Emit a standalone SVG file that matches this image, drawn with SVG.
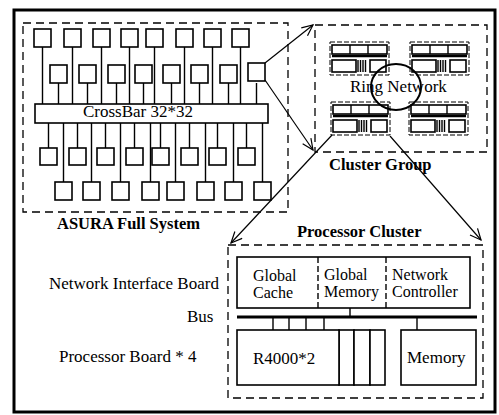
<svg xmlns="http://www.w3.org/2000/svg" width="499" height="415" viewBox="0 0 499 415">
<style>
.b{fill:#fff;stroke:#000;stroke-width:1.6}
.ln{stroke:#000;stroke-width:1.4;fill:none}
.d{fill:none;stroke:#000;stroke-width:1.3;stroke-dasharray:8 5}
.dm{fill:none;stroke:#000;stroke-width:1;stroke-dasharray:5 2}
text{font-family:'Liberation Serif','DejaVu Serif',serif;fill:#000}
.t{font-size:17px}
.ts{font-size:16px}
.tb{font-size:16.5px;font-weight:bold}
.bus{stroke:#000;stroke-width:3}
.ar{stroke:#000;stroke-width:1.2;fill:none}
</style>
<defs>
<marker id="ah" markerWidth="14" markerHeight="12" refX="12" refY="6" orient="auto" markerUnits="userSpaceOnUse">
<path d="M1,1 L12,6 L1,11" fill="none" stroke="#000" stroke-width="1.2"/>
</marker>
<g id="mini">
<rect x="-2" y="-3" width="59" height="33" class="dm"/>
<rect x="0" y="0" width="55" height="9" class="b" stroke-width="1.3"/>
<line x1="18" y1="0" x2="18" y2="9" class="ln"/>
<line x1="36" y1="0" x2="36" y2="9" class="ln"/>
<line x1="0" y1="11" x2="55" y2="11" stroke="#000" stroke-width="2.5"/>
<rect x="0" y="15" width="24" height="12" class="b" stroke-width="1.2"/>
<path d="M26,15V27M28.5,15V27M31,15V27M33.5,15V27" class="ln" stroke-width="1"/>
<rect x="38" y="15" width="16" height="12" class="b" stroke-width="1.2"/>
</g>
</defs>
<rect width="499" height="415" fill="#fff"/>
<rect x="14" y="10" width="481" height="402" fill="none" stroke="#000" stroke-width="3"/>

<g id="full-system" font-family="Liberation Serif, DejaVu Serif, serif">
<rect x="23" y="23" width="265" height="189" class="d"/>
<g id="crossbar">
<rect x="35" y="104" width="233" height="19" class="b"/>
<text x="83" y="117" class="t">CrossBar 32*32</text>
</g>
<g id="pe-lines">
<path class="ln" d="M42.5,47V104M72.5,47V104M101.5,47V104M129.5,47V104M154.5,47V104M184.5,47V104M212.5,47V104M240.5,47V104"/>
<path class="ln" d="M58.5,83V104M87.5,83V104M116.5,83V104M143.5,83V104M171.5,83V104M199.5,83V104M228.5,83V104M256.5,83V104"/>
<path class="ln" d="M48.5,123V148M77.5,123V148M105.5,123V148M134.5,123V148M160.5,123V148M189.5,123V148M217.5,123V148M246.5,123V148"/>
<path class="ln" d="M63.5,123V182M91.5,123V182M120.5,123V182M150.5,123V182M175.5,123V182M205.5,123V182M233.5,123V182M262.5,123V182"/>
</g>
<g id="pe-row1">
<rect x="34" y="29" width="17" height="18" class="b"/>
<rect x="64" y="29" width="17" height="18" class="b"/>
<rect x="93" y="29" width="17" height="18" class="b"/>
<rect x="121" y="29" width="17" height="18" class="b"/>
<rect x="146" y="29" width="17" height="18" class="b"/>
<rect x="176" y="29" width="17" height="18" class="b"/>
<rect x="204" y="29" width="17" height="18" class="b"/>
<rect x="232" y="29" width="17" height="18" class="b"/>
</g>
<g id="pe-row2">
<rect x="50" y="65" width="17" height="18" class="b"/>
<rect x="79" y="65" width="17" height="18" class="b"/>
<rect x="108" y="65" width="17" height="18" class="b"/>
<rect x="135" y="65" width="17" height="18" class="b"/>
<rect x="163" y="65" width="17" height="18" class="b"/>
<rect x="191" y="65" width="17" height="18" class="b"/>
<rect x="220" y="65" width="17" height="18" class="b"/>
<rect x="248" y="63" width="17" height="18" class="b"/>
</g>
<g id="pe-row3">
<rect x="40" y="148" width="17" height="17" class="b"/>
<rect x="69" y="148" width="17" height="17" class="b"/>
<rect x="97" y="148" width="17" height="17" class="b"/>
<rect x="126" y="148" width="17" height="17" class="b"/>
<rect x="152" y="148" width="17" height="17" class="b"/>
<rect x="181" y="148" width="17" height="17" class="b"/>
<rect x="209" y="148" width="17" height="17" class="b"/>
<rect x="238" y="148" width="17" height="17" class="b"/>
</g>
<g id="pe-row4">
<rect x="55" y="182" width="17" height="18" class="b"/>
<rect x="83" y="182" width="17" height="18" class="b"/>
<rect x="112" y="182" width="17" height="18" class="b"/>
<rect x="142" y="182" width="17" height="18" class="b"/>
<rect x="167" y="182" width="17" height="18" class="b"/>
<rect x="197" y="182" width="17" height="18" class="b"/>
<rect x="225" y="182" width="17" height="18" class="b"/>
<rect x="254" y="182" width="17" height="18" class="b"/>
</g>
<text x="57" y="229" class="tb">ASURA Full System</text>
</g>

<g id="cluster-group">
<rect x="315" y="25" width="172" height="127" class="d"/>
<use href="#mini" x="332" y="45"/>
<use href="#mini" x="412" y="45"/>
<use href="#mini" x="333" y="105"/>
<use href="#mini" x="411" y="105"/>
<text x="350" y="92" class="t">Ring Network</text>
<ellipse cx="396" cy="87" rx="25" ry="23" fill="none" stroke="#000" stroke-width="2"/>
<text x="329" y="170" class="tb">Cluster Group</text>
</g>

<g id="processor-cluster">
<rect x="228" y="245" width="255" height="153" class="d"/>
<text x="297" y="237" class="tb">Processor Cluster</text>
<g id="nib">
<rect x="237" y="257" width="233" height="51" class="b"/>
<line x1="318" y1="257" x2="318" y2="308" class="ln" stroke-dasharray="6 3"/>
<line x1="386" y1="257" x2="386" y2="308" class="ln" stroke-dasharray="6 3"/>
<text x="253" y="281" class="ts">Global</text>
<text x="253" y="298" class="ts">Cache</text>
<text x="324" y="280" class="ts">Global</text>
<text x="324" y="297" class="ts">Memory</text>
<text x="392" y="280" class="ts">Network</text>
<text x="392" y="297" class="ts">Controller</text>
</g>
<line x1="237" y1="317" x2="477" y2="317" class="bus"/>
<path class="ln" d="M350,308V317M273,317V330M289,317V330M306,317V330M324,317V330M417,317V330"/>
<g id="pboard">
<rect x="339" y="330" width="15" height="55" class="b"/>
<rect x="354" y="330" width="16" height="55" class="b"/>
<rect x="370" y="330" width="15" height="55" class="b"/>
<rect x="237" y="330" width="102" height="55" class="b"/>
<text x="253" y="364" class="t">R4000*2</text>
</g>
<g id="memory">
<rect x="401" y="330" width="75" height="55" class="b"/>
<text x="407" y="363" class="t">Memory</text>
</g>
</g>

<g id="labels">
<text x="49" y="289" class="t">Network Interface Board</text>
<text x="187" y="322" class="t">Bus</text>
<text x="59" y="362" class="t">Processor Board * 4</text>
</g>

<g id="connectors">
<line x1="265" y1="63" x2="313" y2="25" class="ar" marker-end="url(#ah)"/>
<line x1="265" y1="80" x2="313" y2="150" class="ar" marker-end="url(#ah)"/>
<line x1="332" y1="135" x2="231" y2="243" class="ar" marker-end="url(#ah)"/>
<line x1="390" y1="136" x2="481" y2="240" class="ar" marker-end="url(#ah)"/>
</g>
</svg>
